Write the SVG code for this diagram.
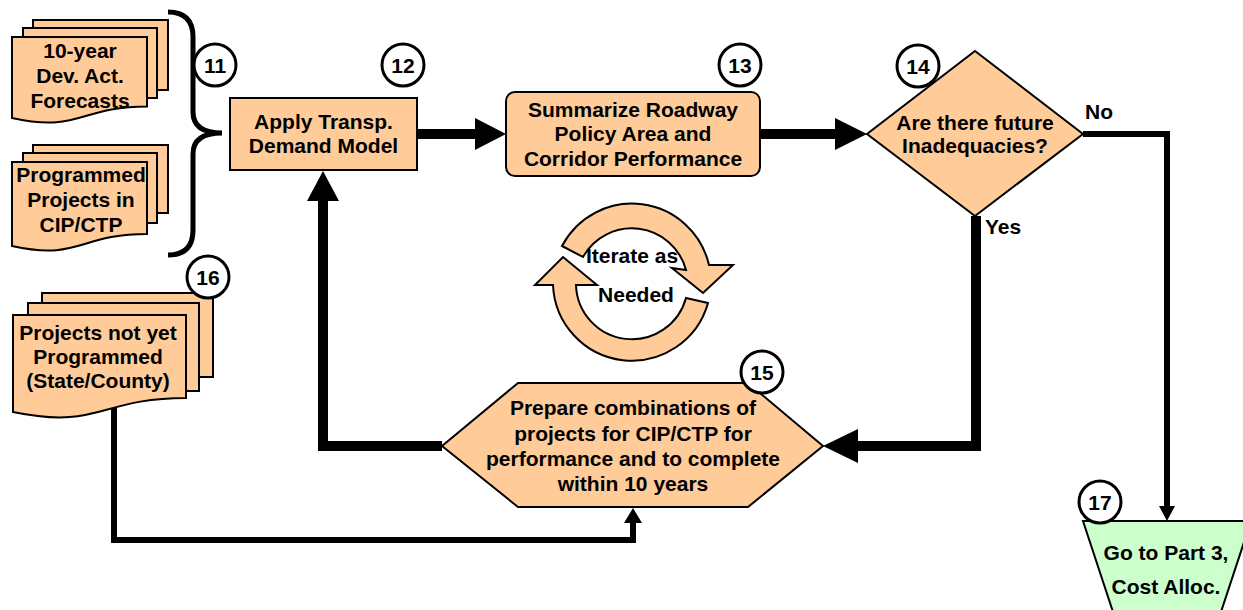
<svg xmlns="http://www.w3.org/2000/svg" width="1243" height="610" viewBox="0 0 1243 610">
<defs>
<style>
.node{fill:#FFCC99;stroke:#000;stroke-width:2}
.term{fill:#CCFFCC;stroke:#000;stroke-width:2}
.num{fill:#fff;stroke:#000;stroke-width:3}
.t{font-family:"Liberation Sans",Arial,sans-serif;font-weight:bold;font-size:21px;fill:#000;text-anchor:middle}
.n{font-family:"Liberation Sans",Arial,sans-serif;font-weight:bold;font-size:21px;fill:#000;text-anchor:middle}
.lbl{font-family:"Liberation Sans",Arial,sans-serif;font-weight:bold;font-size:21px;fill:#000}
.thick{fill:none;stroke:#000;stroke-width:10}
.thin{fill:none;stroke:#000;stroke-width:6}
.head{fill:#000}
</style>
</defs>
<rect width="1243" height="610" fill="#fff"/>

<g id="connectors">
  <line class="thick" x1="417" y1="134" x2="477" y2="134"/>
  <polygon class="head" points="475,118 506,134 475,150"/>
  <line class="thick" x1="760" y1="134" x2="837" y2="134"/>
  <polygon class="head" points="835,118 867,134 835,150"/>
  <polyline class="thin" points="1083,134 1167,134 1167,508"/>
  <polygon class="head" points="1159,506 1175,506 1167,521"/>
  <polyline class="thick" points="976,216 976,446 856,446"/>
  <polygon class="head" points="858,429 823,446 858,463"/>
  <polyline class="thick" points="442,446 323,446 323,199"/>
  <polygon class="head" points="307,201 323,171 339,201"/>
  <polyline class="thin" points="114,405 114,540 633,540 633,521"/>
  <polygon class="head" points="624,523 642,523 633,508"/>
</g>

<g id="brace">
  <path d="M168,12 Q193,12 193,37 V112 Q193,133 222,133 Q193,133 193,154 V230 Q193,255 168,255" fill="none" stroke="#000" stroke-width="5"/>
</g>

<g id="node-forecasts">
  <rect class="node" x="33" y="20" width="135" height="70"/>
  <rect class="node" x="23" y="28" width="134" height="70"/>
  <path class="node" d="M12,37 H147 V106.5 C79.5,106.5 79.5,133 12,118 Z"/>
  <text class="t" x="80" y="58">10-year</text>
  <text class="t" x="80" y="83">Dev. Act.</text>
  <text class="t" x="80" y="108">Forecasts</text>
</g>

<g id="node-programmed">
  <rect class="node" x="33" y="145" width="135" height="68"/>
  <rect class="node" x="23" y="153" width="134" height="70"/>
  <path class="node" d="M12,162 H147 V234 C79.5,234 79.5,261 12,246 Z"/>
  <text class="t" x="81" y="182">Programmed</text>
  <text class="t" x="81" y="207">Projects in</text>
  <text class="t" x="81" y="232">CIP/CTP</text>
</g>

<g id="node-notyet">
  <rect class="node" x="42" y="293" width="171" height="84"/>
  <rect class="node" x="28" y="303" width="171" height="88"/>
  <path class="node" d="M13,315 H186 V398 C99.5,398 99.5,430 13,412 Z"/>
  <text class="t" x="98" y="340">Projects not yet</text>
  <text class="t" x="98" y="364">Programmed</text>
  <text class="t" x="98" y="388">(State/County)</text>
</g>

<g id="node-12">
  <rect class="node" x="230" y="98" width="187" height="72"/>
  <text class="t" x="323.5" y="129">Apply Transp.</text>
  <text class="t" x="323.5" y="153">Demand Model</text>
</g>

<g id="node-13">
  <rect class="node" x="506" y="92" width="254" height="84" rx="9" ry="9"/>
  <text class="t" x="633" y="117">Summarize Roadway</text>
  <text class="t" x="633" y="141">Policy Area and</text>
  <text class="t" x="633" y="166">Corridor Performance</text>
</g>

<g id="node-14">
  <polygon class="node" points="975,51 1083,134 975,216 867,134"/>
  <text class="t" x="975" y="130">Are there future</text>
  <text class="t" x="975" y="153">Inadequacies?</text>
</g>

<g id="node-15">
  <polygon class="node" points="442,446 518,383 748,383 823,446 748,507 518,507"/>
  <text class="t" x="633" y="415">Prepare combinations of</text>
  <text class="t" x="633" y="441">projects for CIP/CTP for</text>
  <text class="t" x="633" y="466">performance and to complete</text>
  <text class="t" x="633" y="491">within 10 years</text>
</g>

<g id="node-17">
  <polygon class="term" points="1083,521 1251,521 1219,618 1115,618"/>
  <text class="t" x="1166" y="560">Go to Part 3,</text>
  <text class="t" x="1166" y="594">Cost Alloc.</text>
</g>

<g id="iterate">
  <path class="node" d="M562,246 A79,79 0 0 1 709,265 L733,265 L703,293 L672,268 L686,270 A56,56 0 0 0 583,257 Z"/>
  <path class="node" d="M708,303 A79,79 0 0 1 553,285 L535,285 L563,257 L597,285 L576,285 A56,56 0 0 0 686,298 Z"/>
  <text class="t" x="632" y="263">Iterate as</text>
  <text class="t" x="636" y="302">Needed</text>
</g>

<g id="labels">
  <text class="lbl" x="1085" y="119">No</text>
  <text class="lbl" x="985" y="234">Yes</text>
</g>

<g id="badges">
  <circle class="num" cx="215" cy="65" r="21"/><text class="n" x="215" y="72.5">11</text>
  <circle class="num" cx="403" cy="65" r="21"/><text class="n" x="403" y="72.5">12</text>
  <circle class="num" cx="740" cy="65" r="21"/><text class="n" x="740" y="72.5">13</text>
  <circle class="num" cx="918" cy="66" r="21"/><text class="n" x="918" y="73.5">14</text>
  <circle class="num" cx="762" cy="372" r="21"/><text class="n" x="762" y="379.5">15</text>
  <circle class="num" cx="208" cy="277" r="21"/><text class="n" x="208" y="284.5">16</text>
  <circle class="num" cx="1100" cy="502" r="21"/><text class="n" x="1100" y="509.5">17</text>
</g>
</svg>
